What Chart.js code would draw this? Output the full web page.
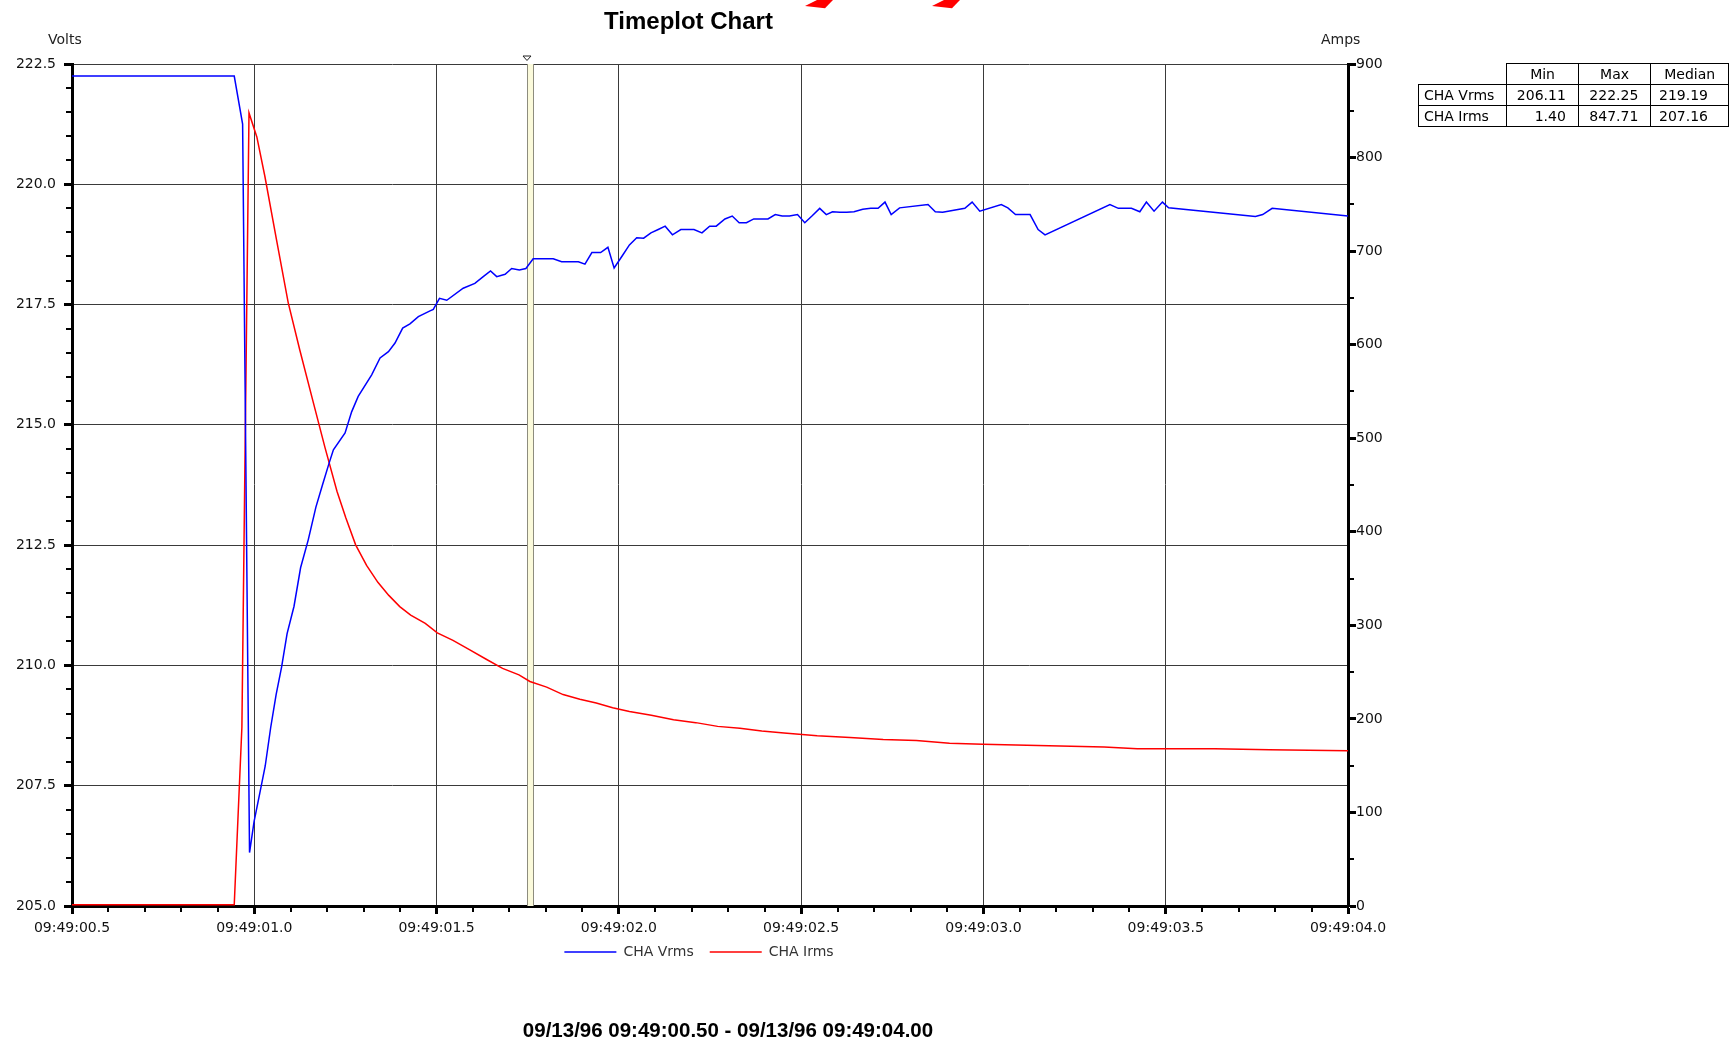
<!DOCTYPE html>
<html><head><meta charset="utf-8">
<script src="https://cdn.jsdelivr.net/npm/chart.js@4.4.1/dist/chart.umd.min.js"></script>
<style>
html,body{margin:0;padding:0;background:#fff;}
#wrap{position:relative;width:1729px;height:1041px;overflow:hidden;background:#fff;}
#c{position:absolute;left:0;top:0;}
.lbl{position:absolute;white-space:nowrap;line-height:1;color:#000;}
#stats{position:absolute;left:1418px;top:63px;border-collapse:collapse;font:14px 'DejaVu Sans',sans-serif;color:#000;}
#stats td,#stats th{border:1px solid #000;height:20px;padding:0;font-weight:normal;line-height:20px;}
#stats th.blank{border:none;}
</style></head><body>
<div id="wrap">
<canvas id="c" width="1729" height="1041"></canvas>
<svg style="position:absolute;left:0;top:0" width="1729" height="20"><polygon points="805,6 825,8.3 833,0 817,0" fill="#ff0000"/><polygon points="932,6 952,8.3 960,0 944,0" fill="#ff0000"/></svg>
<div class="lbl" id="title" style="font:bold 24px 'Liberation Sans',Arial,sans-serif;left:0;width:1377px;text-align:center;top:7px">Timeplot Chart</div>
<div class="lbl" style="font:14px 'DejaVu Sans',sans-serif;left:48px;top:31px;color:#222">Volts</div>
<div class="lbl" style="font:14px 'DejaVu Sans',sans-serif;left:1321px;top:31px;color:#222">Amps</div>
<div class="lbl" style="font:bold 20.5px 'Liberation Sans',Arial,sans-serif;left:0;width:1456px;text-align:center;top:1018px">09/13/96 09:49:00.50 - 09/13/96 09:49:04.00</div>
<table id="stats"></table>
</div>
<script>
// ---- data (seconds after 09:49:00) ----
const vTimes = [0.500,0.945,0.968,0.987,0.9995,1.015,1.030,1.045,1.060,1.075,1.090,1.109,1.127,1.148,1.169,1.187,1.205,1.217,1.249,1.267,1.285,1.322,1.345,1.368,1.386,1.407,1.427,1.450,1.482,1.491,1.508,1.528,1.573,1.605,1.628,1.648,1.665,1.688,1.706,1.727,1.745,1.765,1.820,1.843,1.889,1.907,1.926,1.950,1.970,1.987,2.009,2.029,2.049,2.068,2.088,2.108,2.127,2.147,2.170,2.206,2.228,2.249,2.267,2.291,2.311,2.330,2.350,2.370,2.409,2.429,2.448,2.468,2.490,2.510,2.531,2.551,2.569,2.586,2.606,2.625,2.645,2.669,2.691,2.711,2.730,2.747,2.770,2.848,2.868,2.888,2.949,2.969,2.990,3.049,3.067,3.088,3.128,3.150,3.169,3.347,3.370,3.406,3.429,3.447,3.468,3.491,3.508,3.746,3.766,3.792,4.000];
const vValues = [222.25,222.25,221.25,206.11,206.76,207.34,207.91,208.71,209.40,209.97,210.66,211.23,212.03,212.61,213.29,213.75,214.20,214.48,214.83,215.27,215.59,216.04,216.39,216.52,216.70,217.01,217.10,217.25,217.37,217.40,217.63,217.59,217.84,217.94,218.08,218.20,218.08,218.13,218.25,218.22,218.25,218.45,218.45,218.39,218.39,218.34,218.58,218.58,218.69,218.26,218.51,218.74,218.89,218.88,218.99,219.06,219.13,218.95,219.06,219.06,218.99,219.13,219.13,219.28,219.34,219.20,219.20,219.28,219.28,219.37,219.34,219.34,219.37,219.20,219.35,219.50,219.37,219.43,219.42,219.42,219.43,219.48,219.50,219.50,219.63,219.37,219.51,219.58,219.43,219.42,219.50,219.63,219.44,219.58,219.51,219.37,219.37,219.06,218.95,219.58,219.50,219.50,219.43,219.63,219.44,219.63,219.51,219.33,219.37,219.50,219.34];
const iTimes = [0.500,0.945,0.966,0.9855,1.007,1.029,1.061,1.093,1.125,1.162,1.194,1.227,1.251,1.278,1.308,1.339,1.369,1.399,1.429,1.469,1.502,1.545,1.590,1.635,1.681,1.726,1.756,1.802,1.847,1.893,1.938,1.983,2.029,2.089,2.150,2.211,2.271,2.332,2.392,2.453,2.544,2.634,2.725,2.816,2.907,2.998,3.089,3.210,3.331,3.422,3.512,3.634,3.785,4.000];
const iValues = [1.40,1.40,191,847.71,822,780,712,645,594,538,490,443,415,386,364,346,332,320,311,302,292,284,274,264,254,247,240,234,226,221,217,212,208,204,199,196,192,190,187,185,182,180,178,177,174,173,172,171,170,168,168,168,167,166];
const seriesNames = ['CHA Vrms','CHA Irms'];
const seriesColors = ['#0000ff','#ff0000'];
const statHeaders = ['Min','Max','Median'];
const statMin = ['206.11','1.40'];
const statMax = ['222.25','847.71'];
const statMedian = ['219.19','207.16'];
const cursorStart = 1.748, cursorEnd = 1.766;
const xMin = 0.5, xMax = 4.0, xMajor = 0.5, xMinor = 0.1;
const vMin = 205, vMax = 222.5, vMajor = 2.5, vMinor = 0.5;
const aMin = 0, aMax = 900, aMajor = 100, aMinor = 50;

// ---- stats table ----
(function(){
  const t = document.getElementById('stats');
  const widths = [90,71,72,77];
  const pads = [0,12,12,20];
  let h = '<tr><th class="blank" style="width:'+widths[0]+'px"></th>';
  statHeaders.forEach((s,i)=>{ h += '<th style="width:'+widths[i+1]+'px;text-align:center">'+s+'</th>'; });
  h += '</tr>';
  seriesNames.forEach((n,r)=>{
    h += '<tr><td style="text-align:left;padding-left:5px">'+n+'</td>';
    [statMin[r],statMax[r],statMedian[r]].forEach((v,i)=>{ h += '<td style="text-align:right;padding-right:'+pads[i+1]+'px">'+v+'</td>'; });
    h += '</tr>';
  });
  t.innerHTML = h;
})();

Chart.defaults.font.family = "'DejaVu Sans', sans-serif";
Chart.defaults.font.size = 14;
Chart.defaults.color = '#111';

function drawMinor(ctx, scale, step, major, len, side, area){
  const every = Math.round(major/step);
  const kMin = Math.round(scale.min/step), kMax = Math.round(scale.max/step);
  ctx.beginPath();
  for(let k=kMin;k<=kMax;k++){
    if(k % every === 0) continue;
    const p = Math.round(scale.getPixelForValue(k*step));
    if(side==='bottom'){ ctx.moveTo(p, area.bottom+1); ctx.lineTo(p, area.bottom+len); }
    else if(side==='left'){ ctx.moveTo(area.left-len, p); ctx.lineTo(area.left-1, p); }
    else { ctx.moveTo(area.right+1, p); ctx.lineTo(area.right+len, p); }
  }
  ctx.stroke();
}

const decor = {
  id:'decor',
  afterLayout(chart){
    // lift the legend row to sit just under the time labels
    if (chart.legend) { chart.legend.top -= 7; chart.legend.bottom -= 7; }
  },
  beforeDatasetsDraw(chart){
    const {ctx, chartArea:a, scales:{x}} = chart;
    const x1 = Math.round(x.getPixelForValue(cursorStart)), x2 = Math.round(x.getPixelForValue(cursorEnd));
    ctx.save();
    ctx.fillStyle = '#fbfadb';
    ctx.fillRect(x1, a.top, x2-x1, a.bottom-a.top);
    ctx.strokeStyle = '#8d8c7e'; ctx.lineWidth = 1;
    ctx.beginPath();
    ctx.moveTo(x1+0.5, a.top); ctx.lineTo(x1+0.5, a.bottom);
    ctx.moveTo(x2-0.5, a.top); ctx.lineTo(x2-0.5, a.bottom);
    ctx.stroke();
    const ty = a.top - 8;
    ctx.beginPath(); ctx.moveTo(x1-4, ty); ctx.lineTo(x1+4, ty); ctx.lineTo(x1, ty+4.5); ctx.closePath();
    ctx.fillStyle = '#fff'; ctx.fill(); ctx.strokeStyle = '#222'; ctx.stroke();
    ctx.restore();
  },
  afterDraw(chart){
    const {ctx, chartArea:a, scales} = chart;
    ctx.save();
    ctx.strokeStyle = '#000'; ctx.lineWidth = 2;
    drawMinor(ctx, scales.x, xMinor, xMajor, 6, 'bottom', a);
    drawMinor(ctx, scales.y, vMinor, vMajor, 6, 'left', a);
    drawMinor(ctx, scales.y1, aMinor, aMajor, 6, 'right', a);
    ctx.restore();
  }
};

const fmtTime = v => '09:49:' + (v < 10 ? '0' : '') + v.toFixed(1);

new Chart(document.getElementById('c'), {
  type: 'line',
  data: {
    datasets: [
      { label: seriesNames[0], data: vTimes.map((t,i)=>({x:t, y:vValues[i]})), borderColor: seriesColors[0], backgroundColor: seriesColors[0], borderWidth: 1.5, pointRadius: 0, tension: 0, yAxisID: 'y' },
      { label: seriesNames[1], data: iTimes.map((t,i)=>({x:t, y:iValues[i]})), borderColor: seriesColors[1], backgroundColor: seriesColors[1], borderWidth: 1.5, pointRadius: 0, tension: 0, yAxisID: 'y1' }
    ]
  },
  options: {
    responsive: false, animation: false, devicePixelRatio: 1, events: [],
    layout: { padding: { left: 0, top: 64, right: 331, bottom: 65 } },
    scales: {
      x: { type: 'linear', position: 'bottom', min: xMin, max: xMax,
           ticks: { stepSize: xMajor, callback: v => fmtTime(v), padding: 6, maxRotation: 0, autoSkip: false, color: '#111' },
           grid: { color: '#3a3a3a', lineWidth: 1, drawTicks: true, tickLength: 8, tickWidth: 3, tickColor: '#000' },
           border: { display: true, color: '#000', width: 3 },
           afterFit(s){ s.height = 30; } },
      y: { type: 'linear', position: 'left', min: vMin, max: vMax,
           ticks: { stepSize: vMajor, callback: v => v.toFixed(1), padding: 8, color: '#111' },
           grid: { color: '#3a3a3a', lineWidth: 1, drawTicks: true, tickLength: 8, tickWidth: 3, tickColor: '#000' },
           border: { display: true, color: '#000', width: 3 },
           afterFit(s){ s.width = 72; } },
      y1: { type: 'linear', position: 'right', min: aMin, max: aMax,
           ticks: { stepSize: aMajor, padding: 0, color: '#111' },
           grid: { drawOnChartArea: false, drawTicks: true, tickLength: 8, tickWidth: 3, tickColor: '#000' },
           border: { display: true, color: '#000', width: 3 },
           afterFit(s){ s.width = 50; } }
    },
    plugins: {
      legend: { display: true, position: 'bottom',
        labels: { usePointStyle: true, pointStyle: 'line', pointStyleWidth: 52, padding: 16, color: '#333', font: { size: 14 } } },
      tooltip: { enabled: false },
      title: { display: false }
    }
  },
  plugins: [decor]
});
</script>
</body></html>
